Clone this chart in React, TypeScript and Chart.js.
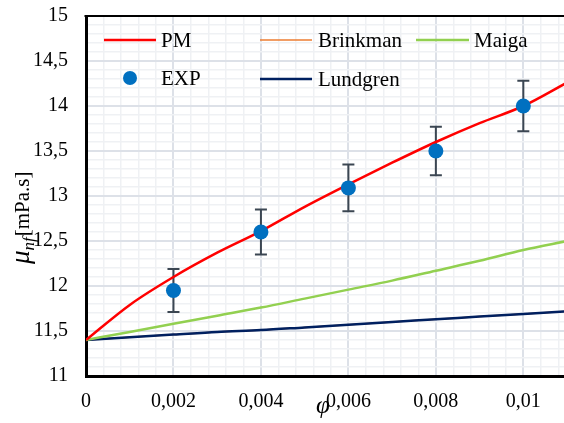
import React, { useEffect, useRef } from "react";
import { Chart, registerables } from "chart.js";

Chart.register(...registerables);

const phiGrid = [0, 0.001, 0.002, 0.003, 0.004, 0.005, 0.006, 0.007, 0.008, 0.009, 0.01, 0.011];
const pmValues = [11.4, 11.79, 12.1, 12.37, 12.61, 12.88, 13.13, 13.37, 13.6, 13.81, 14.0, 14.26];
const brinkmanValues = [11.4, 11.43, 11.46, 11.49, 11.51, 11.54, 11.57, 11.6, 11.63, 11.66, 11.69, 11.72];
const maigaValues = [11.4, 11.49, 11.58, 11.67, 11.76, 11.86, 11.96, 12.06, 12.17, 12.28, 12.4, 12.5];
const lundgrenValues = [11.4, 11.43, 11.46, 11.49, 11.51, 11.54, 11.57, 11.6, 11.63, 11.66, 11.69, 11.72];

const expPhi = [0.002, 0.004, 0.006, 0.008, 0.01];
const expValues = [11.95, 12.6, 13.09, 13.5, 14.0];
const expErrors = [0.24, 0.25, 0.26, 0.27, 0.28];

const xTickLabels = ["0", "0,002", "0,004", "0,006", "0,008", "0,01"];
const yTickLabels = ["11", "11,5", "12", "12,5", "13", "13,5", "14", "14,5", "15"];

const X_MIN = 0;
const X_MAX = 0.01093;
const X_MINOR = 0.0004;
const Y_MIN = 11;
const Y_MAX = 15;
const Y_MINOR = 0.1;

const SERIF = "'Liberation Serif', 'Times New Roman', serif";

const xTicks: number[] = [];
for (let i = 0; i * X_MINOR <= X_MAX + 1e-9; i++) xTicks.push(i * X_MINOR);
const yTicks: number[] = [];
for (let i = 0; Y_MIN + i * Y_MINOR <= Y_MAX + 1e-9; i++) yTicks.push(Y_MIN + i * Y_MINOR);

const isMajorX = (v: number) => Math.round(v / X_MINOR) % 5 === 0;
const isMajorY = (v: number) => Math.round((v - Y_MIN) / Y_MINOR) % 5 === 0;

const COLORS = {
  pm: "#ff0000",
  brinkman: "#ed7d31",
  maiga: "#92d050",
  exp: "#0070c0",
  lundgren: "#002060",
  err: "#3b4652",
  major: "#dde1e8",
  minor: "#eff1f4",
};

const toXY = (xs: number[], ys: number[]) => xs.map((x, i) => ({ x, y: ys[i] }));

const extrasPlugin = {
  id: "extras",
  beforeDatasetsDraw(chart: any) {
    const ctx = chart.ctx;
    const xs = chart.scales.x;
    const ys = chart.scales.y;
    ctx.save();
    ctx.strokeStyle = COLORS.err;
    ctx.lineWidth = 2;
    expPhi.forEach((p, i) => {
      const px = xs.getPixelForValue(p);
      const top = ys.getPixelForValue(expValues[i] + expErrors[i]);
      const bot = ys.getPixelForValue(expValues[i] - expErrors[i]);
      ctx.beginPath();
      ctx.moveTo(px, top);
      ctx.lineTo(px, bot);
      ctx.moveTo(px - 6, top);
      ctx.lineTo(px + 6, top);
      ctx.moveTo(px - 6, bot);
      ctx.lineTo(px + 6, bot);
      ctx.stroke();
    });
    ctx.restore();
  },
  afterDraw(chart: any) {
    const ctx = chart.ctx;
    const area = chart.chartArea;
    ctx.save();
    // top border
    ctx.strokeStyle = "#000";
    ctx.lineWidth = 2;
    ctx.beginPath();
    ctx.moveTo(area.left - 1.5, area.top);
    ctx.lineTo(area.right, area.top);
    ctx.stroke();

    // legend
    ctx.font = `21px ${SERIF}`;
    ctx.fillStyle = "#000";
    ctx.textBaseline = "middle";
    ctx.textAlign = "left";
    const lineItem = (x1: number, x2: number, y: number, color: string, w: number, label: string, tx: number) => {
      ctx.strokeStyle = color;
      ctx.lineWidth = w;
      ctx.beginPath();
      ctx.moveTo(x1, y);
      ctx.lineTo(x2, y);
      ctx.stroke();
      ctx.fillStyle = "#000";
      ctx.fillText(label, tx, y + 1);
    };
    lineItem(104, 156, 40, COLORS.pm, 2.5, "PM", 161);
    lineItem(260, 312, 40, COLORS.brinkman, 1.5, "Brinkman", 318);
    lineItem(416, 469, 40, COLORS.maiga, 2.5, "Maiga", 474);
    lineItem(260, 312, 79, COLORS.lundgren, 2.5, "Lundgren", 318);
    ctx.fillStyle = COLORS.exp;
    ctx.beginPath();
    ctx.arc(130, 78, 7, 0, Math.PI * 2);
    ctx.fill();
    ctx.fillStyle = "#000";
    ctx.fillText("EXP", 161, 79);

    // x title
    ctx.font = `italic 25px ${SERIF}`;
    ctx.textAlign = "center";
    ctx.textBaseline = "alphabetic";
    ctx.fillText("\u03c6", 323, 413);

    // y title
    ctx.translate(29, 264);
    ctx.rotate(-Math.PI / 2);
    ctx.textAlign = "left";
    ctx.font = `italic 27px ${SERIF}`;
    ctx.fillText("\u03bc", 0, 0);
    let w = ctx.measureText("\u03bc").width;
    ctx.font = `italic 17px ${SERIF}`;
    ctx.fillText("nf", w, 5);
    w += ctx.measureText("nf").width + 1;
    ctx.font = `21px ${SERIF}`;
    ctx.fillText("[mPa.s]", w, 0);
    ctx.restore();
  },
};

export default function App() {
  const canvasRef = useRef<HTMLCanvasElement | null>(null);

  useEffect(() => {
    document.body.style.margin = "0";
    const canvas = canvasRef.current;
    if (!canvas) return;
    const chart = new Chart(canvas, {
      type: "line",
      data: {
        datasets: [
          {
            label: "EXP",
            data: toXY(expPhi, expValues),
            showLine: false,
            pointRadius: 7.5,
            pointBackgroundColor: COLORS.exp,
            pointBorderWidth: 0,
            borderColor: COLORS.exp,
            backgroundColor: COLORS.exp,
          },
          {
            label: "PM",
            data: toXY(phiGrid, pmValues),
            borderColor: COLORS.pm,
            borderWidth: 2.5,
            pointRadius: 0,
            cubicInterpolationMode: "monotone",
          },
          {
            label: "Maiga",
            data: toXY(phiGrid, maigaValues),
            borderColor: COLORS.maiga,
            borderWidth: 2.5,
            pointRadius: 0,
            cubicInterpolationMode: "monotone",
          },
          {
            label: "Lundgren",
            data: toXY(phiGrid, lundgrenValues),
            borderColor: COLORS.lundgren,
            borderWidth: 2.5,
            pointRadius: 0,
            cubicInterpolationMode: "monotone",
          },
          {
            label: "Brinkman",
            data: toXY(phiGrid, brinkmanValues),
            borderColor: COLORS.brinkman,
            borderWidth: 1.5,
            pointRadius: 0,
            cubicInterpolationMode: "monotone",
          },
        ],
      },
      options: {
        responsive: false,
        maintainAspectRatio: false,
        animation: false,
        layout: { autoPadding: false, padding: { left: 0, right: 0, top: 16, bottom: 0 } },
        plugins: { legend: { display: false }, tooltip: { enabled: false } },
        scales: {
          x: {
            type: "linear",
            min: X_MIN,
            max: X_MAX,
            afterBuildTicks: (s: any) => {
              s.ticks = xTicks.map((v) => ({ value: v }));
            },
            afterFit: (s: any) => {
              s.height = 47;
              s.paddingLeft = 0;
              s.paddingRight = 0;
            },
            grid: {
              color: (c: any) => (isMajorX(c.tick.value) ? COLORS.major : COLORS.minor),
              lineWidth: (c: any) => (isMajorX(c.tick.value) ? 2 : 1.5),
              drawTicks: false,
            },
            border: { display: true, color: "#000", width: 3 },
            ticks: {
              autoSkip: false,
              maxRotation: 0,
              padding: 14,
              color: "#000",
              font: { family: SERIF, size: 20 },
              callback: (v: any) => {
                const idx = Math.round(Number(v) / X_MINOR);
                return idx % 5 === 0 ? xTickLabels[idx / 5] ?? "" : "";
              },
            },
          },
          y: {
            type: "linear",
            min: Y_MIN,
            max: Y_MAX,
            afterBuildTicks: (s: any) => {
              s.ticks = yTicks.map((v) => ({ value: v }));
            },
            afterFit: (s: any) => {
              s.width = 86;
              s.paddingTop = 0;
              s.paddingBottom = 0;
            },
            grid: {
              color: (c: any) => (isMajorY(c.tick.value) ? COLORS.major : COLORS.minor),
              lineWidth: (c: any) => (isMajorY(c.tick.value) ? 2 : 1.5),
              drawTicks: false,
            },
            border: { display: true, color: "#000", width: 3 },
            ticks: {
              autoSkip: false,
              padding: 18,
              color: "#000",
              font: { family: SERIF, size: 20 },
              callback: (v: any) => {
                const idx = Math.round((Number(v) - Y_MIN) / Y_MINOR);
                return idx % 5 === 0 ? yTickLabels[idx / 5] ?? "" : "";
              },
            },
          },
        },
      },
      plugins: [extrasPlugin],
    } as any);
    return () => chart.destroy();
  }, []);

  return (
    <div style={{ position: "absolute", left: 0, top: 0, width: 564, height: 423, background: "#fff" }}>
      <canvas ref={canvasRef} width={564} height={423} style={{ width: 564, height: 423, display: "block" }} />
    </div>
  );
}
